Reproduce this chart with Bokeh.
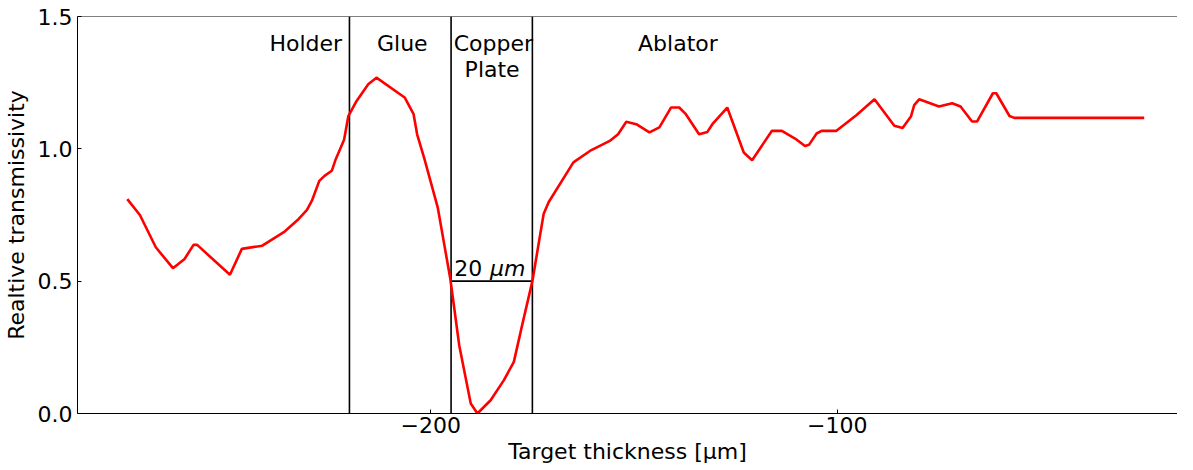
from bokeh.plotting import figure
from bokeh.models import Range1d, FixedTicker, PrintfTickFormatter, CustomJSTickFormatter, ColumnDataSource, Span
from bokeh.core.properties import value
from bokeh.embed import file_html
from bokeh.resources import INLINE

# ---- data ----
thickness = [-274.65, -271.55, -267.64, -263.42, -260.56, -258.36, -257.46, -249.40, -246.47, -241.44,
             -236.14, -232.48, -230.45, -229.23, -227.42, -226.13, -224.35, -223.37, -221.32, -220.27,
             -218.24, -215.38, -213.36, -206.42, -204.22, -203.35, -201.54, -198.29, -195.2, -192.99,
             -190.16, -188.52, -185.27, -182.00, -179.56, -177.53, -175.0, -172.23, -171.01, -164.91,
             -160.85, -155.97, -153.92, -151.89, -149.45, -146.20, -143.76, -140.90, -138.88, -137.24,
             -133.99, -131.94, -130.72, -127.06, -123.00, -120.95, -116.07, -113.63, -110.38, -107.94,
             -106.96, -105.08, -103.86, -100.20, -95.31, -90.84, -85.96, -83.93, -81.88, -81.07,
             -79.85, -74.97, -71.72, -69.67, -66.84, -65.62, -61.71, -60.88, -57.63, -56.48,
             -24.49]
transmissivity = [0.810, 0.750, 0.628, 0.549, 0.584, 0.637, 0.637, 0.524, 0.622, 0.634,
                  0.685, 0.735, 0.769, 0.804, 0.879, 0.898, 0.917, 0.961, 1.034, 1.124,
                  1.181, 1.244, 1.269, 1.194, 1.131, 1.055, 0.961, 0.779, 0.51, 0.257,
                  0.038, 0.000, 0.050, 0.126, 0.195, 0.333, 0.50, 0.754, 0.798, 0.949,
                  0.992, 1.030, 1.055, 1.102, 1.093, 1.062, 1.081, 1.156, 1.156, 1.131,
                  1.055, 1.064, 1.093, 1.156, 0.986, 0.957, 1.068, 1.068, 1.039, 1.011,
                  1.015, 1.058, 1.068, 1.068, 1.127, 1.187, 1.087, 1.079, 1.122, 1.165,
                  1.187, 1.160, 1.172, 1.160, 1.103, 1.103, 1.210, 1.210, 1.124, 1.117,
                  1.117]

boundaries = [-220, -195, -175]
width_marker_x = [-195, -175]
width_marker_y = [0.5, 0.5]

region_labels = ["Holder", "Glue", "Copper", "Plate", "Ablator"]
region_x = [-221.8, -207.0, -184.6, -184.9, -139.2]
region_y = [1.398, 1.398, 1.398, 1.300, 1.398]
region_align = ["right", "center", "center", "center", "center"]

x_ticks = [-200, -100]
y_ticks = [0.0, 0.5, 1.0, 1.5]

FONT = "DejaVu Sans"
FS = "22px"

p = figure(width=1177, height=466, output_backend="svg", toolbar_location=None,
           x_range=Range1d(-286.9, -16.3), y_range=Range1d(0, 1.5),
           min_border_left=69, min_border_right=0, min_border_top=16, min_border_bottom=0,
           background_fill_color="white", border_fill_color="white")
p.outline_line_color = None
p.xgrid.visible = False
p.ygrid.visible = False

xa = p.below[0]
xa.ticker = FixedTicker(ticks=x_ticks)
xa.formatter = CustomJSTickFormatter(code="return (tick < 0 ? '\u2212' : '') + Math.abs(tick).toFixed(0);")
xa.axis_label = "Target thickness [μm]"
ya = p.left[0]
ya.ticker = FixedTicker(ticks=y_ticks)
ya.formatter = PrintfTickFormatter(format="%.1f")
ya.axis_label = "Realtive transmissivity"

for ax in (xa, ya):
    ax.major_tick_in = 4
    ax.major_tick_out = 0
    ax.minor_tick_line_color = None
    ax.axis_line_color = "black"
    ax.axis_line_width = 1
    ax.major_tick_line_color = "black"
    ax.major_label_text_font = FONT
    ax.major_label_text_font_size = FS
    ax.major_label_text_color = "black"
    ax.axis_label_text_font = FONT
    ax.axis_label_text_font_size = FS
    ax.axis_label_text_font_style = "normal"
    ax.axis_label_text_color = "black"
xa.major_label_standoff = 3
xa.axis_label_standoff = 3
ya.major_label_standoff = 5
ya.axis_label_standoff = 6

# top spine
p.add_layout(Span(location=1.5, dimension="width", line_color="black", line_width=1))

# region boundaries
p.segment(x0=boundaries, y0=[0] * len(boundaries), x1=boundaries, y1=[1.5] * len(boundaries),
          line_color="black", line_width=1.6)
# 20 um width marker
p.line(width_marker_x, width_marker_y, line_color="black", line_width=1.6)

# curve
p.line(thickness, transmissivity, line_color="red", line_width=2.6)

# region labels
src = ColumnDataSource(dict(x=region_x, y=region_y, t=region_labels, a=region_align))
p.text(x="x", y="y", text="t", text_align="a", text_baseline="alphabetic", source=src,
       text_font=value(FONT), text_font_size=FS, text_color="black")

# 20 um annotation
p.text(x=[-194.2], y=[0.549], text=["20"], text_align="left", text_baseline="alphabetic",
       text_font=value(FONT), text_font_size=FS, text_color="black")
p.text(x=[-185.4], y=[0.549], text=["μm"], text_align="left", text_baseline="alphabetic",
       text_font=value(FONT), text_font_size=FS, text_font_style="italic", text_color="black")

open("out.html", "w").write(file_html(p, INLINE))
